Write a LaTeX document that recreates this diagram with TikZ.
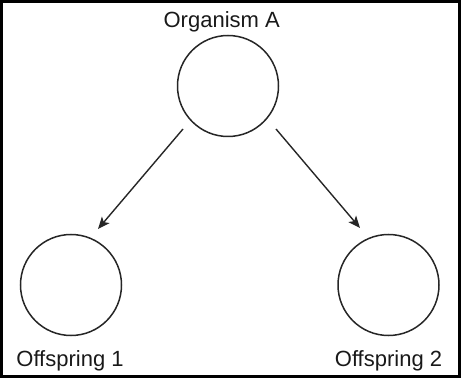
\documentclass[tikz,border=0pt]{standalone}
\usepackage{fontspec}
\setmainfont{Liberation Sans}
\usetikzlibrary{arrows.meta,calc}
\begin{document}
\begin{tikzpicture}[x=1pt,y=1pt,
  org/.style={draw=black!85,line width=1.5pt,circle,minimum size=101pt,inner sep=0pt},
  lbl/.style={anchor=base,font=\fontsize{22}{26}\selectfont,text=black!90,inner sep=0pt},
  arr/.style={draw=black!85,line width=1.4pt,-{Stealth[length=12pt,width=10pt,inset=3pt]}}]
\useasboundingbox (0,0) rectangle (461,378);
\draw[line width=3pt] (1.5,1.5) rectangle (459.5,376.5);
\node[org] (a) at (228,292) {};
\node[org] (b1) at (71,93) {};
\node[org] (b2) at (388.5,93) {};
\node[lbl] (la) at (221.7,350) {Organism A};
\node[lbl] (l1) at (70,12) {Offspring 1};
\node[lbl] (l2) at (388.5,12) {Offspring 2};
\coordinate (s1) at ($(a)+(-45,-43)$);
\coordinate (e1) at ($(b1)+(27,56)$);
\coordinate (s2) at ($(a)+(48,-43)$);
\coordinate (e2) at ($(b2)+(-28.5,57)$);
\draw[arr] (s1) -- (e1);
\draw[arr] (s2) -- (e2);
\end{tikzpicture}
\end{document}
